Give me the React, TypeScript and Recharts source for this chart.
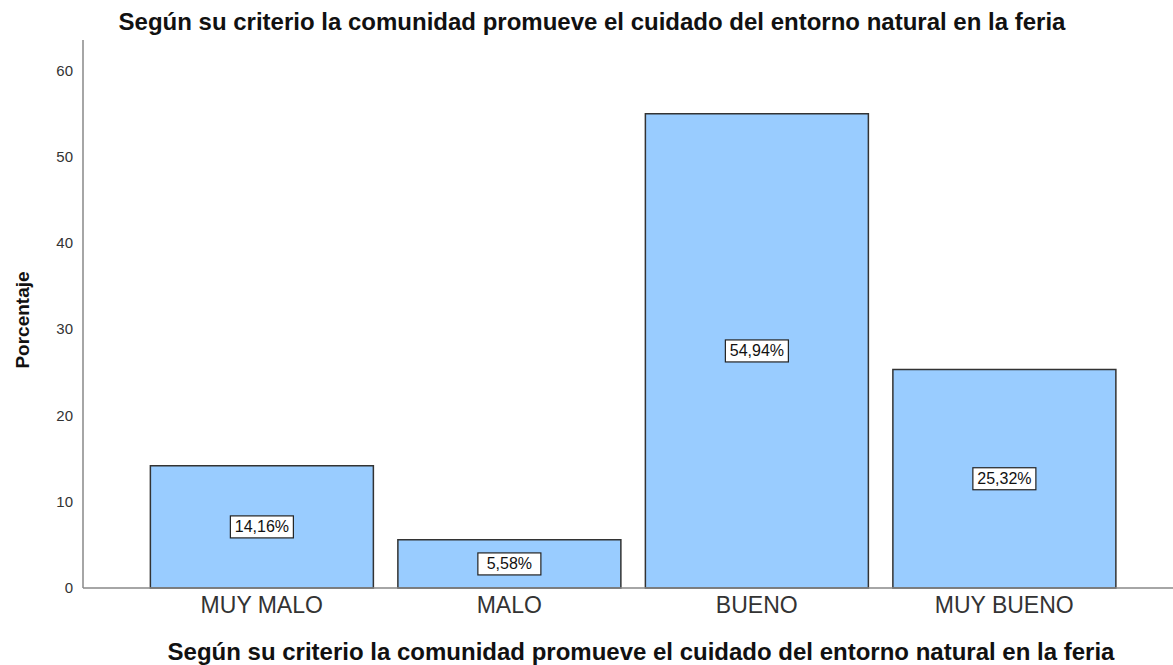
import { Bar, BarChart, LabelList, XAxis, YAxis } from "recharts"

const categories = ["MUY MALO", "MALO", "BUENO", "MUY BUENO"]
const percentages = [14.16, 5.58, 54.94, 25.32]
const yTicks = [0, 10, 20, 30, 40, 50, 60]

const TITLE = "Según su criterio la comunidad promueve el cuidado del entorno natural en la feria"

const data = categories.map((name, i) => ({ name, value: percentages[i] }))

const font = "'Liberation Sans', Arial, sans-serif"

function BoxLabel(props: any) {
  const { x, y, width, height, value } = props
  const cx = x + width / 2
  const cy = y + height / 2
  const text = value.toFixed(2).replace(".", ",") + "%"
  const w = 63
  const h = 22
  return (
    <g>
      <rect x={cx - w / 2} y={cy - h / 2} width={w} height={h} fill="#fff" stroke="#222" strokeWidth={1.2} />
      <text x={cx} y={cy + 5.5} textAnchor="middle" fontSize={16} fontFamily={font} fill="#111">
        {text}
      </text>
    </g>
  )
}

export default function App() {
  return (
    <>
      <style>{"html,body{margin:0;padding:0;overflow:hidden}"}</style>
      <div style={{ position: "relative", width: 1173, height: 665, background: "#fff" }}>
        <BarChart
          width={1173}
          height={665}
          data={data}
          margin={{ top: 40, right: 0, left: 0, bottom: 0 }}
          barCategoryGap="5%"
        >
          <YAxis
            width={83}
            domain={[0, 63.5]}
            ticks={yTicks}
            tickLine={false}
            axisLine={{ stroke: "#888", strokeWidth: 1.5 }}
            tick={{ fontSize: 15, fill: "#333", fontFamily: font }}
            tickMargin={4}
          />
          <XAxis
            dataKey="name"
            height={77}
            tickLine={false}
            padding={{ left: 55, right: 45 }}
            axisLine={{ stroke: "#888", strokeWidth: 1.5 }}
            tick={{ fontSize: 23, fill: "#333", fontFamily: font }}
            tickMargin={3}
          />
          <Bar dataKey="value" fill="#99CCFF" stroke="#333" strokeWidth={1.5} isAnimationActive={false}>
            <LabelList dataKey="value" content={BoxLabel} />
          </Bar>
        </BarChart>
        <svg width={1173} height={665} style={{ position: "absolute", left: 0, top: 0, pointerEvents: "none" }}>
          <text x={592} y={30} textAnchor="middle" fontSize={24} fontWeight="bold" fontFamily={font} fill="#111">
            {TITLE}
          </text>
          <text x={641} y={660} textAnchor="middle" fontSize={24} fontWeight="bold" fontFamily={font} fill="#111">
            {TITLE}
          </text>
          <text
            x={0}
            y={0}
            transform="translate(29 320) rotate(-90)"
            textAnchor="middle"
            fontSize={19}
            fontWeight="bold"
            fontFamily={font}
            fill="#111"
          >
            Porcentaje
          </text>
        </svg>
      </div>
    </>
  )
}
